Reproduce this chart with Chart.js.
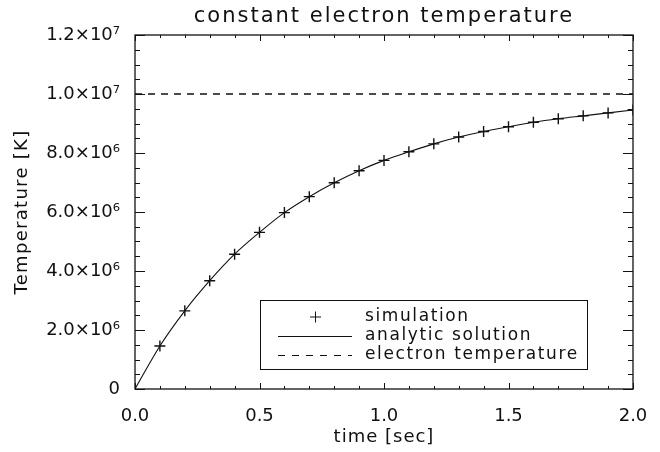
<!DOCTYPE html>
<html>
<head>
<meta charset="utf-8">
<script src="https://cdn.jsdelivr.net/npm/chart.js@4"></script>
<style>
  html, body { margin:0; padding:0; background:#fff; }
  #wrap { width:660px; height:452px; }
</style>
</head>
<body>
<div id="wrap"><canvas id="chart" width="660" height="452"></canvas></div>
<script>
// values
const simTimes = [0.1,0.2,0.3,0.4,0.5,0.6,0.7,0.8,0.9,1.0,1.1,1.2,1.3,1.4,1.5,1.6,1.7,1.8,1.9,2.0];
const simTemps = [1.46e6,2.65e6,3.67e6,4.57e6,5.31e6,5.98e6,6.52e6,6.99e6,7.40e6,7.75e6,
                  8.04e6,8.31e6,8.54e6,8.73e6,8.89e6,9.04e6,9.16e6,9.26e6,9.36e6,9.46e6];
const anaTimes = [0.0,0.1,0.2,0.3,0.4,0.5,0.6,0.7,0.8,0.9,1.0,1.1,1.2,1.3,1.4,1.5,1.6,1.7,1.8,1.9,2.0];
const anaTemps = [0,1.46e6,2.65e6,3.67e6,4.57e6,5.31e6,5.98e6,6.52e6,6.99e6,7.40e6,7.75e6,
                  8.04e6,8.31e6,8.54e6,8.73e6,8.89e6,9.04e6,9.16e6,9.26e6,9.36e6,9.46e6];
const elecTimes = [0.0, 2.0];
const elecTemps = [1.0e7, 1.0e7];
const xTickLabels = ['0.0','0.5','1.0','1.5','2.0'];
const yTickLabels = ['0','2.0×10⁶','4.0×10⁶','6.0×10⁶','8.0×10⁶','1.0×10⁷','1.2×10⁷'];
const legendLabels = ['simulation','analytic solution','electron temperature'];
const titleText = 'constant electron temperature';
const xTitle = 'time [sec]';
const yTitle = 'Temperature [K]';

const FONT = "'DejaVu Sans', sans-serif";
const INK = '#111';

function pts(xs, ys){ return xs.map((x,i) => ({x:x, y:ys[i]})); }

// box, inward ticks, titles, legend: IDL look
const idlFrame = {
  id: 'idlFrame',
  afterDraw(chart){
    const ctx = chart.ctx, a = chart.chartArea;
    const xs = chart.scales.x, ys = chart.scales.y;
    ctx.save();
    ctx.strokeStyle = INK;
    ctx.lineWidth = 1.3;
    ctx.strokeRect(a.left, a.top, a.right-a.left, a.bottom-a.top);
    ctx.lineWidth = 1;
    ctx.beginPath();
    for (let i=0;i<=20;i++){
      const px = Math.round(xs.getPixelForValue(i/10))+0.5;
      const len = (i%5===0) ? 6 : 3;
      ctx.moveTo(px, a.bottom); ctx.lineTo(px, a.bottom-len);
      ctx.moveTo(px, a.top); ctx.lineTo(px, a.top+len);
    }
    for (let i=0;i<=24;i++){
      const py = Math.round(ys.getPixelForValue(i*5e5))+0.5;
      const len = (i%4===0) ? 10 : 5;
      ctx.moveTo(a.left, py); ctx.lineTo(a.left+len, py);
      ctx.moveTo(a.right, py); ctx.lineTo(a.right-len, py);
    }
    ctx.stroke();

    ctx.fillStyle = INK;
    ctx.textAlign = 'center';
    ctx.textBaseline = 'middle';
    // title
    ctx.font = '21px ' + FONT;
    ctx.letterSpacing = '2px';
    ctx.fillText(titleText, (a.left+a.right)/2, 17);
    // axis titles
    ctx.font = '18px ' + FONT;
    ctx.letterSpacing = '1px';
    ctx.fillText(xTitle, (a.left+a.right)/2, 437);
    ctx.save();
    ctx.translate(22, (a.top+a.bottom)/2);
    ctx.rotate(-Math.PI/2);
    ctx.letterSpacing = '1.3px';
    ctx.fillText(yTitle, 0, 0);
    ctx.restore();

    // legend
    const bx = 260, by = 300, bw = 327, bh = 69;
    ctx.lineWidth = 1;
    ctx.strokeRect(bx+0.5, by+0.5, bw, bh);
    const rows = [317, 336, 355];
    ctx.beginPath();
    ctx.moveTo(310, rows[0]); ctx.lineTo(321, rows[0]);
    ctx.moveTo(315.5, rows[0]-5.5); ctx.lineTo(315.5, rows[0]+5.5);
    ctx.moveTo(278, rows[1]+0.5); ctx.lineTo(352, rows[1]+0.5);
    ctx.stroke();
    ctx.setLineDash([7,7]);
    ctx.beginPath();
    ctx.moveTo(278, rows[2]+0.5); ctx.lineTo(352, rows[2]+0.5);
    ctx.stroke();
    ctx.setLineDash([]);
    ctx.font = '17px ' + FONT;
    ctx.letterSpacing = '1.6px';
    ctx.textAlign = 'left';
    legendLabels.forEach((t,i) => ctx.fillText(t, 365, rows[i]));
    ctx.restore();
  }
};

new Chart(document.getElementById('chart'), {
  type: 'scatter',
  data: {
    datasets: [
      {label: legendLabels[0], data: pts(simTimes, simTemps), showLine:false,
       pointStyle:'cross', pointRadius:5.5, borderColor:INK, borderWidth:1.4, backgroundColor:INK},
      {label: legendLabels[1], data: pts(anaTimes, anaTemps), showLine:true,
       pointRadius:0, borderColor:INK, borderWidth:1.1, cubicInterpolationMode:'monotone'},
      {label: legendLabels[2], data: pts(elecTimes, elecTemps), showLine:true,
       pointRadius:0, borderColor:INK, borderWidth:1.5, borderDash:[7,6]}
    ]
  },
  options: {
    responsive:false, animation:false,
    layout: {padding: {top:35, right:27, left:0, bottom:0}},
    plugins: {legend:{display:false}, tooltip:{enabled:false}},
    scales: {
      x: {type:'linear', min:0, max:2,
          afterFit: s => { s.height = 63; },
          grid:{display:false}, border:{display:false},
          ticks:{stepSize:0.5, padding:9, color:INK, font:{family:FONT, size:18},
                 callback:(v,i) => xTickLabels[i]}},
      y: {type:'linear', min:0, max:1.2e7,
          afterFit: s => { s.width = 135; },
          grid:{display:false}, border:{display:false},
          ticks:{stepSize:2e6, padding:7, color:INK, font:{family:FONT, size:18},
                 callback:(v,i) => yTickLabels[i]}}
    }
  },
  plugins: [idlFrame]
});
</script>
</body>
</html>
